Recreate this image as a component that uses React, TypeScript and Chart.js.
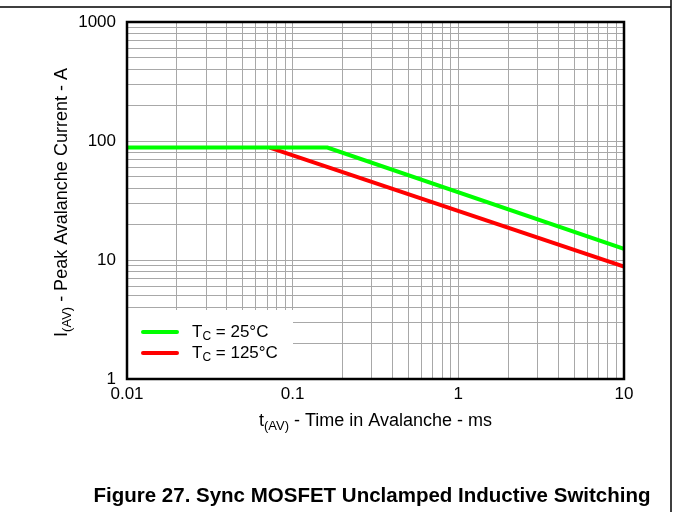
import React, { useEffect, useRef } from "react";
import { Chart, registerables } from "chart.js";

Chart.register(...registerables);

const timeMs25 = [0.01, 0.162, 10];
const current25 = [88, 88, 12.4];
const timeMs125 = [0.0727, 10];
const current125 = [88, 8.8];
const xTickValues = [0.01, 0.1, 1, 10];
const yTickValues = [1, 10, 100, 1000];
const seriesLabels = ["25°C", "125°C"];
const seriesColors = ["#00ff00", "#ff0000"];

const FONT = '"Liberation Sans", Arial, sans-serif';

function allLogTicks(min: number, max: number) {
  const out: { value: number }[] = [];
  for (let e = Math.floor(Math.log10(min)); e <= Math.ceil(Math.log10(max)); e++) {
    for (let m = 1; m <= 9; m++) {
      const v = m * Math.pow(10, e);
      if (v >= min * 0.999 && v <= max * 1.001) out.push({ value: v });
    }
  }
  return out;
}

type Seg = { t: string; sub?: boolean };

function drawSegs(ctx: CanvasRenderingContext2D, segs: Seg[], x: number, y: number, size: number, center: boolean) {
  const subSize = Math.round(size * 0.72);
  let total = 0;
  for (const s of segs) {
    ctx.font = `${s.sub ? subSize : size}px ${FONT}`;
    total += ctx.measureText(s.t).width;
  }
  let cx = center ? x - total / 2 : x;
  ctx.textBaseline = "middle";
  ctx.textAlign = "left";
  for (const s of segs) {
    ctx.font = `${s.sub ? subSize : size}px ${FONT}`;
    ctx.fillText(s.t, cx, s.sub ? y + size * 0.3 : y);
    cx += ctx.measureText(s.t).width;
  }
}

const decorPlugin = {
  id: "decor",
  afterDraw(chart: any) {
    const ctx: CanvasRenderingContext2D = chart.ctx;
    const { left, top, right, bottom } = chart.chartArea;
    ctx.save();
    // page frame
    ctx.strokeStyle = "#000";
    ctx.lineWidth = 1.5;
    ctx.beginPath();
    ctx.moveTo(0, 7);
    ctx.lineTo(671, 7);
    ctx.moveTo(671, 0);
    ctx.lineTo(671, 512);
    ctx.stroke();

    // legend box
    ctx.fillStyle = "#fff";
    ctx.fillRect(left, 310, 293 - left, bottom - 310);
    const legendY = [332, 353];
    for (let i = 0; i < 2; i++) {
      ctx.strokeStyle = seriesColors[i];
      ctx.lineWidth = 4;
      ctx.lineCap = "round";
      ctx.beginPath();
      ctx.moveTo(143, legendY[i]);
      ctx.lineTo(177, legendY[i]);
      ctx.stroke();
      ctx.fillStyle = "#000";
      drawSegs(ctx, [{ t: "T" }, { t: "C", sub: true }, { t: " = " + seriesLabels[i] }], 192, legendY[i], 17, false);
    }

    // plot border
    ctx.strokeStyle = "#000";
    ctx.lineWidth = 2.5;
    ctx.lineCap = "butt";
    ctx.strokeRect(left, top, right - left, bottom - top);

    // axis titles
    ctx.fillStyle = "#000";
    drawSegs(ctx, [{ t: "t" }, { t: "(AV)", sub: true }, { t: " - Time in Avalanche - ms" }], (left + right) / 2, 421, 18, true);
    ctx.save();
    ctx.translate(62, (top + bottom) / 2 + 2);
    ctx.rotate(-Math.PI / 2);
    drawSegs(ctx, [{ t: "I" }, { t: "(AV)", sub: true }, { t: " - Peak Avalanche Current - A" }], 0, 0, 18, true);
    ctx.restore();

    // figure caption
    ctx.font = `bold 20.5px ${FONT}`;
    ctx.textAlign = "center";
    ctx.textBaseline = "middle";
    ctx.fillText("Figure 27. Sync MOSFET Unclamped Inductive Switching", 372, 496);
    ctx.restore();
  },
};

export default function App() {
  const ref = useRef<HTMLCanvasElement>(null);
  useEffect(() => {
    document.body.style.margin = "0";
    const canvas = ref.current!;
    const chart = new Chart(canvas, {
      type: "scatter",
      data: {
        datasets: [
          {
            label: "TC = 25°C",
            data: timeMs25.map((x, i) => ({ x, y: current25[i] })),
            showLine: true,
            borderColor: seriesColors[0],
            backgroundColor: seriesColors[0],
            borderWidth: 4,
            pointRadius: 0,
          },
          {
            label: "TC = 125°C",
            data: timeMs125.map((x, i) => ({ x, y: current125[i] })),
            showLine: true,
            borderColor: seriesColors[1],
            backgroundColor: seriesColors[1],
            borderWidth: 4,
            pointRadius: 0,
          },
        ],
      },
      options: {
        responsive: false,
        animation: false,
        layout: { padding: { left: 0, top: 22, right: 49, bottom: 0 } },
        plugins: { legend: { display: false }, tooltip: { enabled: false } },
        scales: {
          x: {
            type: "logarithmic",
            min: 0.01,
            max: 10,
            afterBuildTicks: (s: any) => { s.ticks = allLogTicks(0.01, 10); },
            afterFit: (s: any) => { s.height = 512 - 379 - 0; },
            grid: { color: "#a8a8a8", lineWidth: 1, drawTicks: false },
            border: { display: false },
            ticks: {
              autoSkip: false,
              maxRotation: 0,
              padding: 5,
              color: "#000",
              font: { family: FONT, size: 17 },
              callback: (v: any) => (xTickValues.includes(Number(v)) ? String(Number(v)) : ""),
            },
          },
          y: {
            type: "logarithmic",
            min: 1,
            max: 1000,
            afterBuildTicks: (s: any) => { s.ticks = allLogTicks(1, 1000); },
            afterFit: (s: any) => { s.width = 127; },
            grid: { color: "#a8a8a8", lineWidth: 1, drawTicks: false },
            border: { display: false },
            ticks: {
              autoSkip: false,
              padding: 11,
              color: "#000",
              font: { family: FONT, size: 17 },
              callback: (v: any) => (yTickValues.includes(Number(v)) ? String(Number(v)) : ""),
            },
          },
        },
      },
      plugins: [decorPlugin],
    });
    return () => chart.destroy();
  }, []);
  return (
    <div style={{ position: "absolute", left: 0, top: 0, width: 673, height: 512 }}>
      <canvas ref={ref} width={673} height={512} style={{ display: "block" }} />
    </div>
  );
}
